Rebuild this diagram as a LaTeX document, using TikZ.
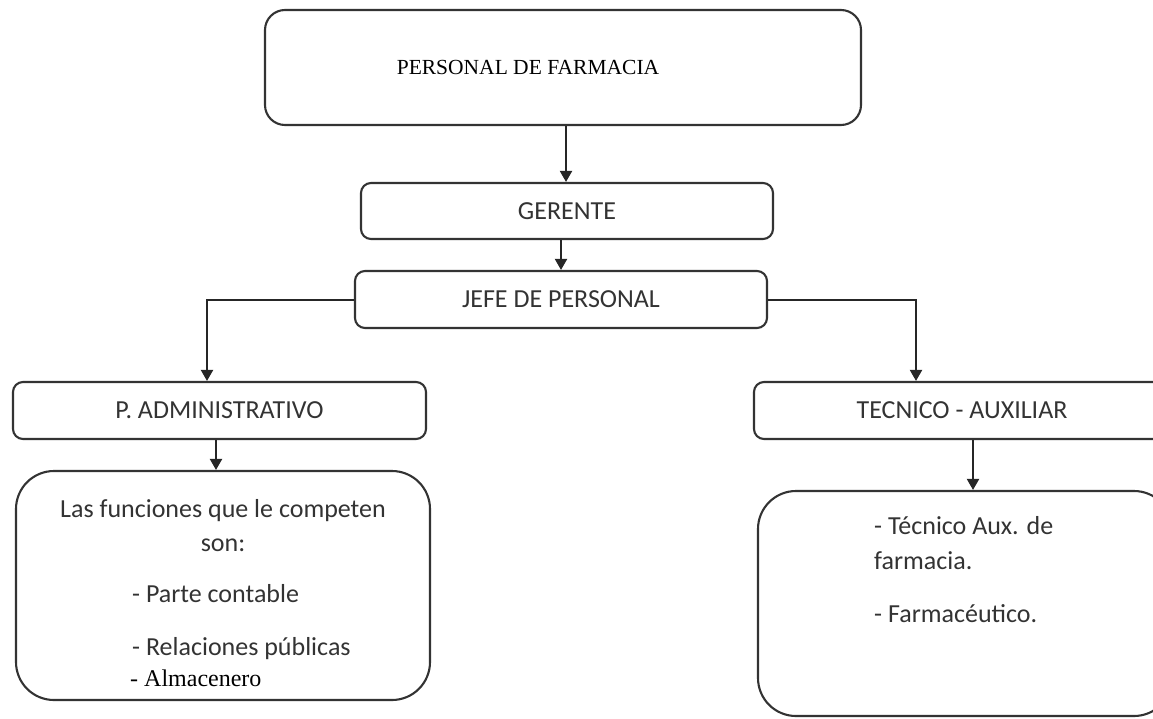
\documentclass[tikz,border=0pt]{standalone}
\usepackage{fontspec}
\setmainfont{Carlito}
\newfontfamily\seriffont{Liberation Serif}
\usetikzlibrary{arrows.meta,calc}
\begin{document}
\begin{tikzpicture}[x=1pt,y=-1pt,
  box/.style={draw=black!80,line width=2.1pt,rounded corners=10pt,inner sep=0pt,
    font=\fontsize{26}{30}\selectfont,text=black!80},
  bigbox/.style={box,rounded corners=38pt},
  txt/.style={inner sep=0pt,font=\fontsize{26}{30}\selectfont,text=black!80},
  arr/.style={draw=black!85,line width=2pt,-{Triangle[length=11pt,width=12pt]}}]
\useasboundingbox (0,0) rectangle (1153,718);
\clip (0,0) rectangle (1153,718);
\node[box,rounded corners=20pt,minimum width=596pt,minimum height=115pt,
  font=\seriffont\fontsize{21.5}{24}\selectfont,text=black] (title) at (563,67.5) {\hspace*{-70pt}\raisebox{-3pt}{PERSONAL DE FARMACIA}};
\node[box,minimum width=412pt,minimum height=56pt] (ger) at (567,211) {GERENTE};
\node[box,minimum width=412pt,minimum height=57pt] (jefe) at (561,299.5) {JEFE DE PERSONAL};
\node[box,minimum width=413pt,minimum height=57pt] (padm) at (219.5,410.5) {P. ADMINISTRATIVO};
\node[box,minimum width=416pt,minimum height=57pt] (tec) at (962,410.5) {TECNICO - AUXILIAR};
\node[bigbox,minimum width=414pt,minimum height=229pt] (lbox) at (223,585.5) {};
\node[bigbox,minimum width=414pt,minimum height=225pt] (rbox) at (965,603.5) {};
% texts of left box
\node[txt,anchor=base] (l1) at (223,517) {Las funciones que le competen};
\node[txt,anchor=base] (l2) at (223,551) {son:};
\node[txt,anchor=base west] (l3) at (132,602) {- Parte contable};
\node[txt,anchor=base west] (l4) at (132,655) {- Relaciones públicas};
\node[txt,anchor=base west,font=\seriffont\fontsize{24}{28}\selectfont,text=black] (l5) at (130,686) {- Almacenero};
% texts of right box
\node[txt,anchor=base west] (r1) at (874,534) {- Técnico Aux. de};
\node[txt,anchor=base west] (r2) at (874,569) {farmacia.};
\node[txt,anchor=base west] (r3) at (874,622) {- Farmacéutico.};
% connectors
\draw[arr] ($(title.south)+(3,0)$) -- (ger.north -| {$(title.south)+(3,0)$});
\draw[arr] (ger.south -| jefe.north) -- (jefe.north);
\draw[arr] (jefe.west) -| ([xshift=-12.5pt]padm.north);
\draw[arr] (jefe.east) -| ([xshift=-46pt]tec.north);
\draw[arr] ([xshift=-3.5pt]padm.south) -- ([xshift=-3.5pt]padm.south |- lbox.north);
\draw[arr] ([xshift=11pt]tec.south) -- ([xshift=11pt]tec.south |- rbox.north);
\end{tikzpicture}
\end{document}
